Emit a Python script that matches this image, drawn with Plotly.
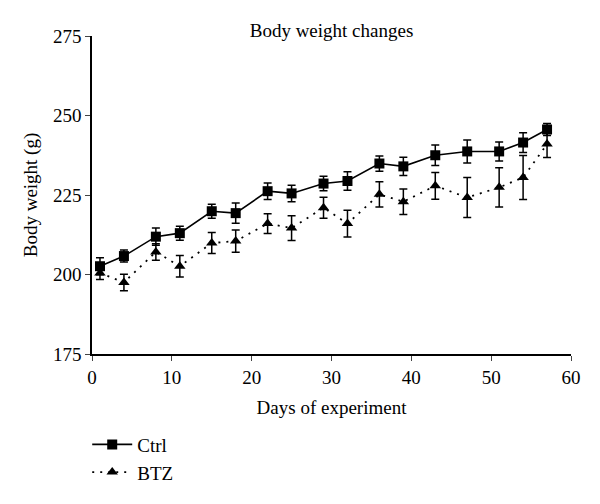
import plotly.graph_objects as go

days = [1, 4, 8, 11, 15, 18, 22, 25, 29, 32, 36, 39, 43, 47, 51, 54, 57]
ctrl = [202.6, 205.8, 211.9, 213.0, 219.9, 219.3, 226.2, 225.5, 228.6, 229.4, 234.9, 234.0, 237.5, 238.7, 238.7, 241.5, 245.6]
ctrl_err = [2.7, 1.9, 2.7, 2.2, 2.2, 3.2, 2.6, 2.6, 2.3, 2.9, 2.4, 2.9, 3.2, 3.6, 3.0, 3.1, 1.9]
btz = [200.5, 197.5, 207.1, 202.6, 209.9, 210.5, 216.0, 214.6, 221.0, 216.0, 225.2, 222.9, 227.9, 224.2, 227.4, 230.5, 241.0]
btz_err = [2.1, 2.6, 2.6, 3.4, 3.3, 3.5, 3.1, 3.9, 3.3, 4.2, 4.0, 4.0, 4.2, 6.3, 6.2, 6.9, 4.2]

x_ticks = [0, 10, 20, 30, 40, 50, 60]
y_ticks = [175, 200, 225, 250, 275]

FONT = "Liberation Serif, Times New Roman, serif"
FS = 19

fig = go.Figure()
fig.add_trace(go.Scatter(
    x=days, y=ctrl, name="Ctrl", mode="lines+markers",
    line=dict(color="black", width=1.6),
    marker=dict(symbol="square", size=10, color="black"),
    error_y=dict(type="data", array=ctrl_err, color="black", thickness=1.5, width=4),
))
fig.add_trace(go.Scatter(
    x=days, y=btz, name="BTZ", mode="lines+markers",
    line=dict(color="black", width=1.8, dash="2px,6px"),
    marker=dict(symbol="triangle-up", size=10, color="black"),
    error_y=dict(type="data", array=btz_err, color="black", thickness=1.5, width=4),
))

fig.update_layout(
    width=600, height=504,
    margin=dict(l=92, r=29, t=36, b=148),
    paper_bgcolor="white", plot_bgcolor="white",
    font=dict(family=FONT, size=FS, color="black"),
    title=dict(text="Body weight changes", x=0.5525, xanchor="center", y=0.94, yanchor="middle",
               font=dict(family=FONT, size=FS, color="black")),
    showlegend=True,
    legend=dict(x=-0.01, xanchor="left", y=-0.225, yanchor="top",
                font=dict(family=FONT, size=FS, color="black"),
                bgcolor="rgba(0,0,0,0)", tracegroupgap=0, itemwidth=40),
)
fig.update_xaxes(
    range=[0, 60], tickvals=x_ticks, ticks="outside", ticklen=5, tickwidth=1,
    showline=True, linecolor="black", linewidth=1.5, showgrid=False, zeroline=False,
    automargin=False,
    title=dict(text="Days of experiment", standoff=14, font=dict(family=FONT, size=FS)),
    tickfont=dict(family=FONT, size=FS),
)
fig.update_yaxes(
    range=[175, 275], tickvals=y_ticks, ticks="outside", ticklen=5, tickwidth=1,
    showline=True, linecolor="black", linewidth=1.5, showgrid=False, zeroline=False,
    automargin=False,
    title=dict(text="Body weight (g)", standoff=10, font=dict(family=FONT, size=FS)),
    tickfont=dict(family=FONT, size=FS),
)

fig.write_html("out.html", config={"displayModeBar": False},
               post_script="document.body.style.margin='0';")
